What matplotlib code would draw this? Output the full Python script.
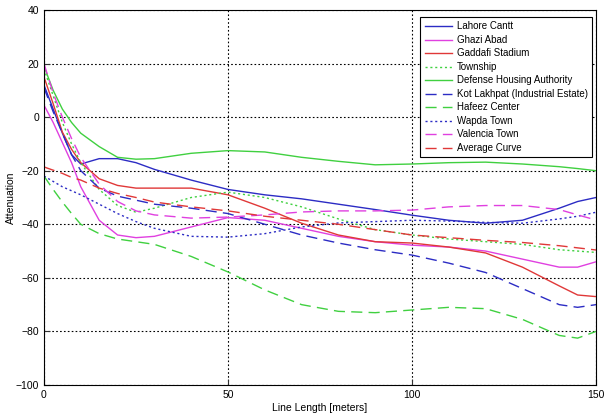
import numpy as np
import matplotlib
matplotlib.use('Agg')
import matplotlib.pyplot as plt

x = [0, 2.5, 5, 7.5, 10, 15, 20, 25, 30, 40, 50, 60, 70, 80, 90, 100, 110, 120, 130, 140, 145, 150]

lahore = [12, 3, -6, -14, -17.5, -15.5, -15.5, -17, -19.5, -23.5, -27, -29, -30.5, -32.5, -34.5, -36.6, -38.5, -39.6, -38.5, -34, -31.5, -30]
ghazi = [4.5, -2, -9.5, -17, -26, -38.5, -44, -45, -44.5, -41, -37.5, -38.5, -41.5, -44.5, -46.5, -47.8, -48.5, -50, -53, -56, -56, -54]
gaddafi = [15, 5, -5.6, -12, -17, -23, -25.5, -26.5, -26.5, -26.5, -29, -34, -39.6, -44, -46.5, -47, -48.5, -50.7, -56, -63, -66.4, -67]
township = [18, 8, -2, -10, -17, -27, -33, -35.5, -34, -30, -28, -30, -33.5, -38, -42, -44, -45.5, -46.5, -47.5, -49.5, -50, -50.5]
dha = [19, 10, 3, -2, -6, -11, -15, -15.7, -15.5, -13.5, -12.5, -13, -15, -16.5, -17.8, -17.5, -17, -16.8, -17.5, -18.5, -19.2, -20]
kot = [11, 2, -6, -14, -20, -26.5, -29.5, -31, -32.5, -34, -36, -40, -44, -47, -49.5, -51.5, -54.5, -58, -64, -70, -71, -70]
hafeez = [-22, -27, -31.7, -36, -40, -43.5, -45.5, -46.5, -47.5, -52, -57.8, -64.5, -70, -72.5, -73, -72, -71, -71.5, -75.5, -81.5, -82.5, -80]
wapda = [-22, -24, -26, -27.5, -29, -32.5, -36, -39, -41.5, -44.5, -44.8, -43.5, -41, -39.5, -39, -38.5, -38.8, -39.3, -39.6, -38, -37, -35.5]
valencia = [20, 9, 0, -8, -15, -25, -31.5, -35, -36.5, -37.7, -37.3, -36.5, -35.4, -35, -35, -34.7, -33.5, -33, -33, -34.5, -36.5, -38.4]
average = [-18.6, -19.8, -21, -22.5, -23.5, -26.5, -28.5, -30, -31.7, -33.5, -35, -37, -38.5, -40, -42, -44, -45, -46, -46.8, -48, -48.8, -49.6]

names = ['Lahore Cantt', 'Ghazi Abad', 'Gaddafi Stadium', 'Township',
         'Defense Housing Authority', 'Kot Lakhpat (Industrial Estate)',
         'Hafeez Center', 'Wapda Town', 'Valencia Town', 'Average Curve']

blue = '#2c2cc4'
mag = '#e040e0'
red = '#e03838'
green = '#40d040'

plt.rcParams['font.family'] = ['Liberation Sans', 'DejaVu Sans']
plt.rcParams['font.size'] = 7.5

fig = plt.figure(figsize=(6.04, 4.16), dpi=100)
ax = fig.add_axes([0.0728, 0.0745, 0.914, 0.9015])

series = [lahore, ghazi, gaddafi, township, dha, kot, hafeez, wapda, valencia, average]
cols = [blue, mag, red, green, green, blue, green, blue, mag, red]
styles = ['-', '-', '-', ':', '-', '--', '--', ':', '--', '--']

for y, c, s, n in zip(series, cols, styles, names):
    if s == '--':
        ax.plot(x, y, color=c, lw=1, dashes=(8, 4.5), label=n)
    elif s == ':':
        ax.plot(x, y, color=c, lw=1, dashes=(1.5, 2), label=n)
    else:
        ax.plot(x, y, color=c, lw=1, label=n)

ax.set_xlim(0, 150)
ax.set_ylim(-100, 40)
ax.set_xticks([0, 50, 100, 150])
ax.set_yticks(np.arange(-100, 41, 20))
ax.grid(True, color='black', linestyle=(0, (1.5, 2)), lw=0.8)
ax.tick_params(direction='in', length=4, colors='#333333', labelcolor='black')
ax.set_xlabel('Line Length [meters]', labelpad=2)
ax.set_ylabel('Attenuation', labelpad=-0.5)

leg = ax.legend(loc='upper right', fancybox=False, edgecolor='black', framealpha=1,
                handlelength=2.8, handletextpad=0.5, labelspacing=0.36,
                borderpad=0.45, fontsize=7, borderaxespad=0,
                bbox_to_anchor=(0.993, 0.981))
leg.get_frame().set_linewidth(0.8)

fig.savefig('out.png', dpi=100)
